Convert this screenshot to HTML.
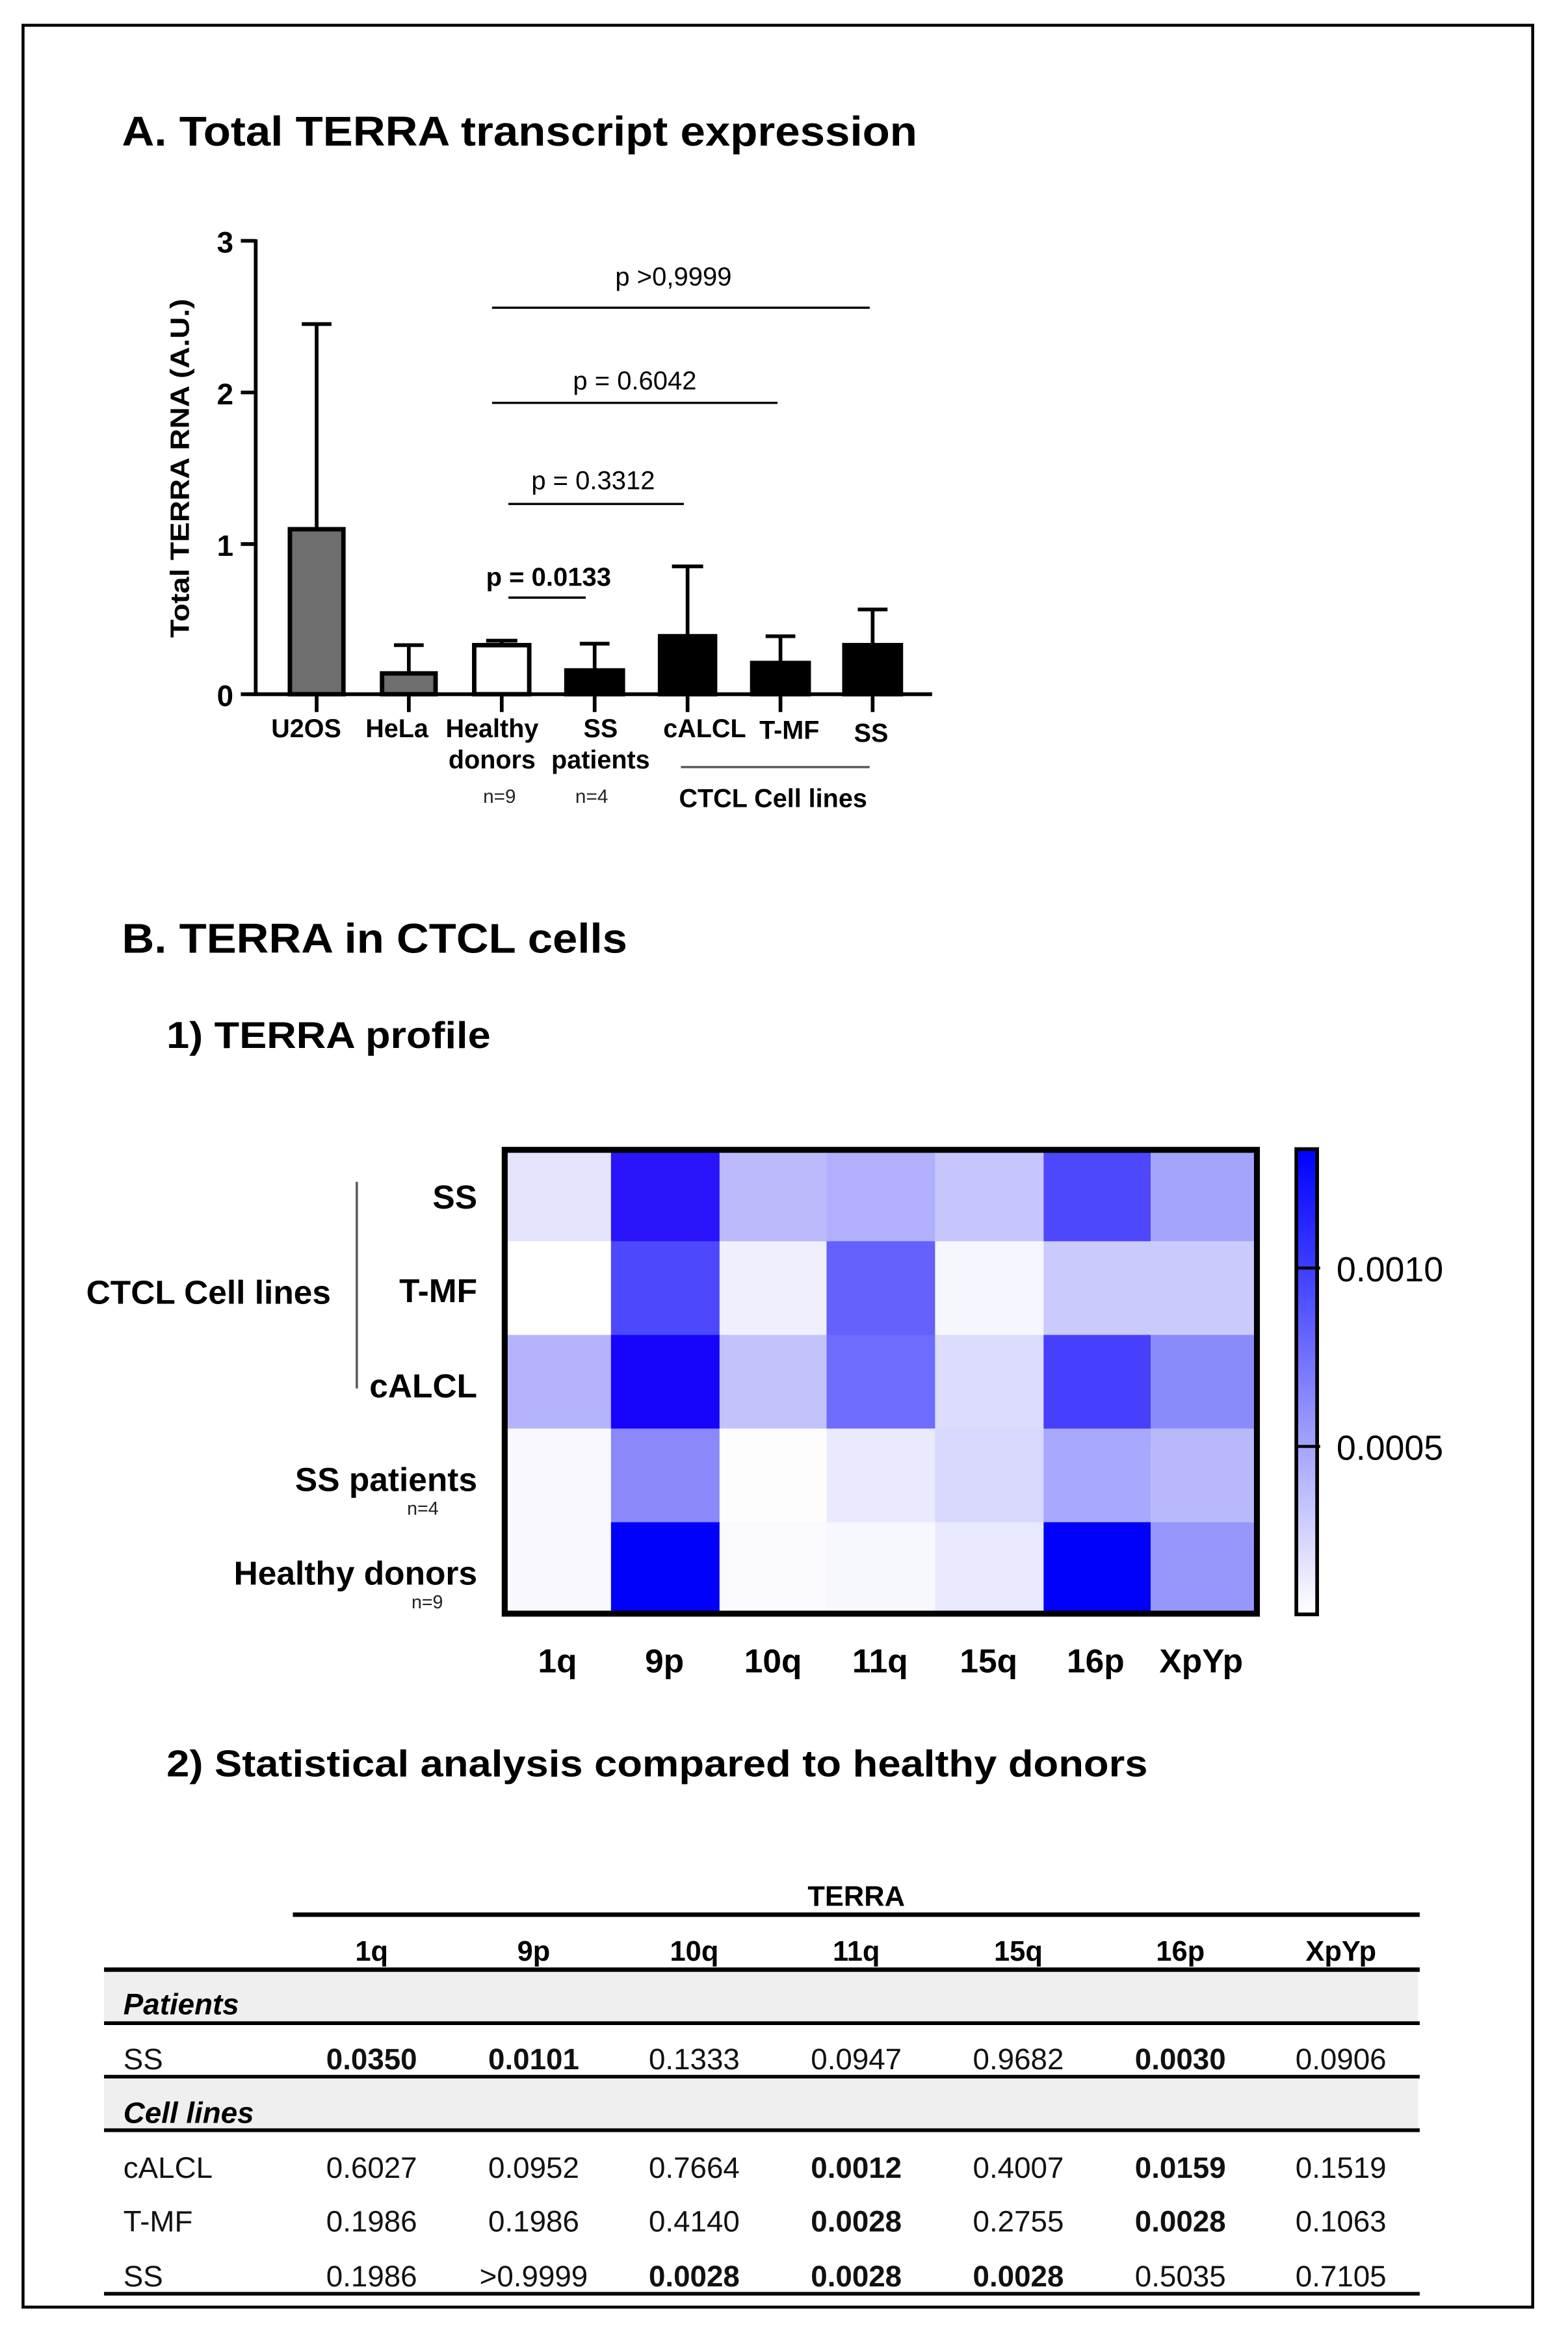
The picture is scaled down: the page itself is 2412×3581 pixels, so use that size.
<!DOCTYPE html>
<html><head><meta charset="utf-8"><style>
html,body{margin:0;padding:0;background:#fff;}
svg{display:block;}
text{font-family:"Liberation Sans",Arial,sans-serif;}
</style></head><body>
<svg width="2412" height="3581" viewBox="0 0 1050 1559" preserveAspectRatio="none" xmlns="http://www.w3.org/2000/svg">
<defs>
<linearGradient id="cb" x1="0" y1="0" x2="0" y2="1">
<stop offset="0" stop-color="#0000ff"/><stop offset="0.25" stop-color="#3c3cff"/><stop offset="0.6" stop-color="#9a9afc"/><stop offset="1" stop-color="#ffffff"/>
</linearGradient>
</defs>
<rect x="0" y="0" width="1050" height="1559" fill="#fff"/>
<g transform="scale(0.9955)">
<rect x="15.5" y="17" width="1015.5" height="1535" fill="none" stroke="#000" stroke-width="2"/>

<text x="82" y="98" font-size="28" font-weight="bold" textLength="535" lengthAdjust="spacingAndGlyphs">A. Total TERRA transcript expression</text>

<g stroke="#000" stroke-width="2.5" fill="none">
<line x1="172" y1="161" x2="172" y2="468"/>
<line x1="171" y1="467" x2="627" y2="467"/>
<line x1="162" y1="162" x2="172" y2="162"/>
<line x1="162" y1="264" x2="172" y2="264"/>
<line x1="162" y1="366" x2="172" y2="366"/>
<line x1="162" y1="467" x2="172" y2="467"/>
<line x1="213" y1="467" x2="213" y2="479"/>
<line x1="275" y1="467" x2="275" y2="479"/>
<line x1="337.5" y1="467" x2="337.5" y2="479"/>
<line x1="400" y1="467" x2="400" y2="479"/>
<line x1="462.5" y1="467" x2="462.5" y2="479"/>
<line x1="525" y1="467" x2="525" y2="479"/>
<line x1="587" y1="467" x2="587" y2="479"/>
</g>
<g font-size="20" font-weight="bold" text-anchor="end">
<text x="157" y="170">3</text><text x="157" y="272">2</text><text x="157" y="374">1</text><text x="157" y="475">0</text>
</g>
<text transform="translate(127,315) rotate(-90)" font-size="18" font-weight="bold" text-anchor="middle" textLength="228" lengthAdjust="spacingAndGlyphs">Total TERRA RNA (A.U.)</text>

<g stroke="#000" stroke-width="2.5">
<line x1="213" y1="356" x2="213" y2="218"/><line x1="203" y1="218" x2="223" y2="218"/>
<line x1="275" y1="453" x2="275" y2="434"/><line x1="265" y1="434" x2="285" y2="434"/>
<line x1="337.5" y1="434" x2="337.5" y2="431"/><line x1="327" y1="431" x2="348" y2="431"/>
<line x1="400" y1="451" x2="400" y2="433"/><line x1="390" y1="433" x2="410" y2="433"/>
<line x1="462.5" y1="427" x2="462.5" y2="381"/><line x1="452" y1="381" x2="473" y2="381"/>
<line x1="525" y1="445" x2="525" y2="428"/><line x1="515" y1="428" x2="535" y2="428"/>
<line x1="587" y1="433" x2="587" y2="410"/><line x1="577" y1="410" x2="597" y2="410"/>
</g>
<g stroke="#000" stroke-width="3">
<rect x="195" y="356" width="36" height="111" fill="#6e6e6e"/>
<rect x="257" y="453" width="36" height="14" fill="#6e6e6e"/>
<rect x="319" y="434" width="37" height="33" fill="#fff"/>
<rect x="381" y="451" width="38" height="16" fill="#000"/>
<rect x="444" y="428" width="37" height="39" fill="#000"/>
<rect x="506" y="446" width="38" height="21" fill="#000"/>
<rect x="568" y="434" width="38" height="33" fill="#000"/>
</g>

<g stroke="#000" stroke-width="1.5">
<line x1="331" y1="207" x2="585" y2="207"/>
<line x1="331" y1="271" x2="523" y2="271"/>
<line x1="342" y1="339" x2="460" y2="339"/>
<line x1="342" y1="402" x2="394" y2="402"/>
</g>
<g font-size="17.5" text-anchor="middle">
<text x="453" y="192">p &gt;0,9999</text>
<text x="427" y="262">p = 0.6042</text>
<text x="399" y="329">p = 0.3312</text>
<text x="369" y="394" font-weight="bold">p = 0.0133</text>
</g>

<g font-size="17.3" font-weight="bold" text-anchor="middle">
<text x="206" y="496">U2OS</text>
<text x="267" y="496">HeLa</text>
<text x="331" y="496">Healthy</text>
<text x="331" y="517">donors</text>
<text x="404" y="496">SS</text>
<text x="404" y="517">patients</text>
<text x="474" y="496">cALCL</text>
<text x="531" y="497">T-MF</text>
<text x="586" y="499">SS</text>
<text x="520" y="543">CTCL Cell lines</text>
</g>
<g font-size="13" text-anchor="middle" fill="#222">
<text x="336" y="540">n=9</text><text x="398" y="540">n=4</text>
</g>
<line x1="458" y1="516" x2="585" y2="516" stroke="#555" stroke-width="1.5"/>

<text x="82" y="641" font-size="28" font-weight="bold" textLength="340" lengthAdjust="spacingAndGlyphs">B. TERRA in CTCL cells</text>
<text x="112" y="705" font-size="25" font-weight="bold" textLength="218" lengthAdjust="spacingAndGlyphs">1) TERRA profile</text>

<g stroke="none">
<rect x="338" y="772" width="74" height="64" fill="#e4e4fd"/>
<rect x="411" y="772" width="74" height="64" fill="#2a14fc"/>
<rect x="484" y="772" width="73" height="64" fill="#bbbbfc"/>
<rect x="556" y="772" width="74" height="64" fill="#b0b0fc"/>
<rect x="629" y="772" width="74" height="64" fill="#c6c6fc"/>
<rect x="702" y="772" width="73" height="64" fill="#4d48fc"/>
<rect x="774" y="772" width="73" height="64" fill="#a4a4fc"/>

<rect x="338" y="835" width="74" height="64" fill="#ffffff"/>
<rect x="411" y="835" width="74" height="64" fill="#4c48fc"/>
<rect x="484" y="835" width="73" height="64" fill="#efeffd"/>
<rect x="556" y="835" width="74" height="64" fill="#6360fc"/>
<rect x="629" y="835" width="74" height="64" fill="#f6f6fe"/>
<rect x="702" y="835" width="73" height="64" fill="#cacafc"/>
<rect x="774" y="835" width="73" height="64" fill="#cacafc"/>

<rect x="338" y="898" width="74" height="64" fill="#b4b4fc"/>
<rect x="411" y="898" width="74" height="64" fill="#1705fb"/>
<rect x="484" y="898" width="73" height="64" fill="#c3c3fc"/>
<rect x="556" y="898" width="74" height="64" fill="#6e6cfc"/>
<rect x="629" y="898" width="74" height="64" fill="#dcdcfd"/>
<rect x="702" y="898" width="73" height="64" fill="#463ffc"/>
<rect x="774" y="898" width="73" height="64" fill="#8a8afb"/>

<rect x="338" y="961" width="74" height="64" fill="#f8f8fe"/>
<rect x="411" y="961" width="74" height="64" fill="#8a88fb"/>
<rect x="484" y="961" width="73" height="64" fill="#fdfdfe"/>
<rect x="556" y="961" width="74" height="64" fill="#eaeafd"/>
<rect x="629" y="961" width="74" height="64" fill="#d8d8fd"/>
<rect x="702" y="961" width="73" height="64" fill="#a8a8fc"/>
<rect x="774" y="961" width="73" height="64" fill="#b8b8fc"/>

<rect x="338" y="1024" width="74" height="63" fill="#f8f8fe"/>
<rect x="411" y="1024" width="74" height="63" fill="#0000fb"/>
<rect x="484" y="1024" width="73" height="63" fill="#f9f9fe"/>
<rect x="556" y="1024" width="74" height="63" fill="#f7f7fe"/>
<rect x="629" y="1024" width="74" height="63" fill="#e9e9fd"/>
<rect x="702" y="1024" width="73" height="63" fill="#0000fb"/>
<rect x="774" y="1024" width="73" height="63" fill="#9696fb"/>
</g>
<rect x="339.5" y="773.5" width="506" height="312" fill="none" stroke="#000" stroke-width="4"/>

<rect x="872" y="773" width="14" height="313" fill="url(#cb)" stroke="#000" stroke-width="2.5"/>
<g stroke="#000" stroke-width="2"><line x1="872" y1="853" x2="888" y2="853"/><line x1="872" y1="973" x2="888" y2="973"/></g>
<g font-size="23.5"><text x="899" y="862">0.0010</text><text x="899" y="982">0.0005</text></g>

<g font-size="22.5" font-weight="bold" text-anchor="end">
<text x="321" y="813">SS</text>
<text x="321" y="876">T-MF</text>
<text x="321" y="940">cALCL</text>
<text x="321" y="1003">SS patients</text>
<text x="321" y="1066">Healthy donors</text>
</g>
<text x="58" y="877" font-size="22.5" font-weight="bold">CTCL Cell lines</text>
<line x1="240" y1="795" x2="240" y2="934" stroke="#555" stroke-width="1.5"/>
<g font-size="12.5" fill="#222" text-anchor="end"><text x="295" y="1019">n=4</text><text x="298" y="1082">n=9</text></g>
<g font-size="22.5" font-weight="bold" text-anchor="middle">
<text x="375" y="1125">1q</text><text x="447" y="1125">9p</text><text x="520" y="1125">10q</text><text x="592" y="1125">11q</text><text x="665" y="1125">15q</text><text x="737" y="1125">16p</text><text x="808" y="1125">XpYp</text>
</g>

<text x="112" y="1195" font-size="25" font-weight="bold" textLength="660" lengthAdjust="spacingAndGlyphs">2) Statistical analysis compared to healthy donors</text>

<rect x="70" y="1327" width="884" height="33" fill="#efefef"/>
<rect x="70" y="1399" width="884" height="33" fill="#efefef"/>
<text x="576" y="1282" font-size="19" font-weight="bold" text-anchor="middle">TERRA</text>
<g stroke="#000">
<line x1="197" y1="1288" x2="955" y2="1288" stroke-width="3"/>
<line x1="70" y1="1325" x2="955" y2="1325" stroke-width="3"/>
<line x1="70" y1="1361" x2="955" y2="1361" stroke-width="2.5"/>
<line x1="70" y1="1397" x2="955" y2="1397" stroke-width="2.5"/>
<line x1="70" y1="1433" x2="955" y2="1433" stroke-width="2.5"/>
<line x1="70" y1="1543" x2="955" y2="1543" stroke-width="2.5"/>
</g>
<g font-size="19" font-weight="bold" text-anchor="middle">
<text x="250" y="1319">1q</text><text x="359" y="1319">9p</text><text x="467" y="1319">10q</text><text x="576" y="1319">11q</text><text x="685" y="1319">15q</text><text x="794" y="1319">16p</text><text x="902" y="1319">XpYp</text>
</g>
<g font-size="20" font-weight="bold" font-style="italic">
<text x="83" y="1355">Patients</text><text x="83" y="1428">Cell lines</text>
</g>
<g font-size="20" fill="#111">
<text x="83" y="1392">SS</text><text x="83" y="1465">cALCL</text><text x="83" y="1501">T-MF</text><text x="83" y="1538">SS</text>
</g>
<g font-size="20" text-anchor="middle" fill="#111">
<text x="250" y="1392" font-weight="bold">0.0350</text><text x="359" y="1392" font-weight="bold">0.0101</text><text x="467" y="1392">0.1333</text><text x="576" y="1392">0.0947</text><text x="685" y="1392">0.9682</text><text x="794" y="1392" font-weight="bold">0.0030</text><text x="902" y="1392">0.0906</text>

<text x="250" y="1465">0.6027</text><text x="359" y="1465">0.0952</text><text x="467" y="1465">0.7664</text><text x="576" y="1465" font-weight="bold">0.0012</text><text x="685" y="1465">0.4007</text><text x="794" y="1465" font-weight="bold">0.0159</text><text x="902" y="1465">0.1519</text>

<text x="250" y="1501">0.1986</text><text x="359" y="1501">0.1986</text><text x="467" y="1501">0.4140</text><text x="576" y="1501" font-weight="bold">0.0028</text><text x="685" y="1501">0.2755</text><text x="794" y="1501" font-weight="bold">0.0028</text><text x="902" y="1501">0.1063</text>

<text x="250" y="1538">0.1986</text><text x="359" y="1538">&gt;0.9999</text><text x="467" y="1538" font-weight="bold">0.0028</text><text x="576" y="1538" font-weight="bold">0.0028</text><text x="685" y="1538" font-weight="bold">0.0028</text><text x="794" y="1538">0.5035</text><text x="902" y="1538">0.7105</text>
</g>
</g>
</svg>
</body></html>
